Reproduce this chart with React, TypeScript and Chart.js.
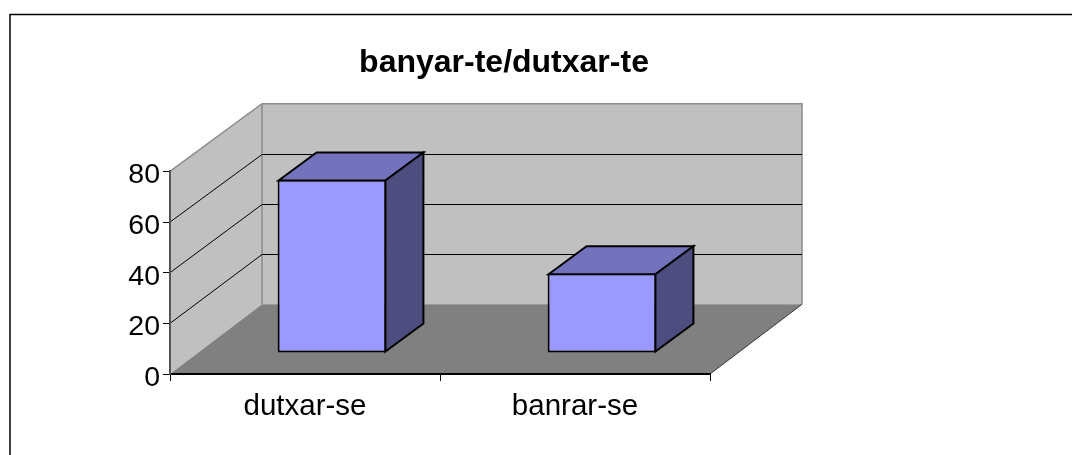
import React, { useEffect, useRef } from "react";
import { Chart, registerables } from "chart.js";

Chart.register(...registerables);

const title = "banyar-te/dutxar-te";
const categories = ["dutxar-se", "banrar-se"];
const seriesValues = [68.5, 31.5];
const gridValues = [0, 20, 40, 60, 80];

const WALL = "#C0C0C0";
const FLOOR = "#808080";
const EDGE = "#8C8C8C";
const FRONT = "#9999FF";
const TOP = "#7373BD";
const SIDE = "#4D4D80";

// Projection of the 3D box
const DEPTH_X = 92;
const DEPTH_Y = 69.7;
const BACK_RATIO = 0.99;
const BAR_SHIFT_X = 27;
const BAR_SHIFT_Y = 21;
const BAR_DX = 38;
const BAR_DY = 28;
const TITLE_CENTER = 504;
const Y_LABEL_DROP = 4;

const box3d = {
  id: "box3d",
  afterLayout(chart: any) {
    if (chart.titleBlock) {
      chart.titleBlock.left = 0;
      chart.titleBlock.right = TITLE_CENTER * 2;
    }
    const yScale = chart.scales.y;
    if (!yScale.__dropped) {
      yScale.__dropped = true;
      const orig = yScale._computeLabelItems;
      yScale._computeLabelItems = function (area: any) {
        return orig.call(this, area).map((it: any) => ({
          ...it,
          options: {
            ...it.options,
            translation: [it.options.translation[0], it.options.translation[1] + Y_LABEL_DROP],
          },
        }));
      };
      yScale._labelItems = null;
    }
  },
  beforeDatasetsDraw(chart: any) {
    const { ctx, chartArea: a, scales } = chart;
    const y = scales.y;
    const backY = (p: number) => a.bottom - DEPTH_Y + (p - a.bottom) * BACK_RATIO;
    const l = a.left, r = a.right, b = a.bottom, t = a.top;
    const bl = l + DEPTH_X, br = r + DEPTH_X;
    ctx.save();
    ctx.fillStyle = WALL;
    ctx.beginPath();
    ctx.moveTo(l, b); ctx.lineTo(l, t); ctx.lineTo(bl, backY(t)); ctx.lineTo(bl, backY(b)); ctx.closePath();
    ctx.fill();
    ctx.fillRect(bl, backY(t), br - bl, backY(b) - backY(t));
    ctx.fillStyle = FLOOR;
    ctx.beginPath();
    ctx.moveTo(l, b); ctx.lineTo(r, b); ctx.lineTo(br, backY(b)); ctx.lineTo(bl, backY(b)); ctx.closePath();
    ctx.fill();
    ctx.strokeStyle = EDGE;
    ctx.lineWidth = 1.5;
    ctx.beginPath();
    ctx.moveTo(l, t); ctx.lineTo(bl, backY(t)); ctx.lineTo(br, backY(t)); ctx.lineTo(br, backY(b));
    ctx.moveTo(bl, backY(t)); ctx.lineTo(bl, backY(b));
    ctx.stroke();
    ctx.strokeStyle = "#333333";
    ctx.lineWidth = 1;
    ctx.beginPath();
    ctx.moveTo(r, b); ctx.lineTo(br, backY(b));
    ctx.stroke();
    ctx.strokeStyle = "#000000";
    ctx.lineWidth = 1;
    gridValues.slice(1, -1).forEach((v) => {
      const p = y.getPixelForValue(v);
      const q = Math.round(backY(p)) + 0.5;
      ctx.beginPath();
      ctx.moveTo(l, p); ctx.lineTo(bl, q); ctx.lineTo(br, q);
      ctx.stroke();
    });
    ctx.restore();
    ctx.save();
    ctx.translate(BAR_SHIFT_X, -BAR_SHIFT_Y);
  },
  afterDatasetsDraw(chart: any) {
    const { ctx } = chart;
    const bars = chart.getDatasetMeta(0).data;
    ctx.lineWidth = 2;
    ctx.strokeStyle = "#000000";
    ctx.lineJoin = "miter";
    bars.forEach((bar: any) => {
      const xl = bar.x - bar.width / 2 + 1, xr = bar.x + bar.width / 2 - 1;
      const yt = bar.y + 1, yb = bar.base - 1;
      ctx.fillStyle = TOP;
      ctx.beginPath();
      ctx.moveTo(xl, yt); ctx.lineTo(xl + BAR_DX, yt - BAR_DY); ctx.lineTo(xr + BAR_DX, yt - BAR_DY); ctx.lineTo(xr, yt); ctx.closePath();
      ctx.fill(); ctx.stroke();
      ctx.fillStyle = SIDE;
      ctx.beginPath();
      ctx.moveTo(xr, yt); ctx.lineTo(xr + BAR_DX, yt - BAR_DY); ctx.lineTo(xr + BAR_DX, yb - BAR_DY); ctx.lineTo(xr, yb); ctx.closePath();
      ctx.fill(); ctx.stroke();
    });
    ctx.restore();
  },
};

const outerFrame = {
  id: "outerFrame",
  beforeDraw(chart: any) {
    const { ctx, width } = chart;
    ctx.save();
    ctx.strokeStyle = "#000000";
    ctx.lineWidth = 1.5;
    ctx.beginPath();
    ctx.moveTo(10, chart.height);
    ctx.lineTo(10, 14.5);
    ctx.lineTo(width, 14.5);
    ctx.stroke();
    ctx.restore();
  },
};

export default function App() {
  const ref = useRef<HTMLCanvasElement>(null);
  useEffect(() => {
    document.body.style.margin = "0";
    const chart = new Chart(ref.current as HTMLCanvasElement, {
      type: "bar",
      data: {
        labels: categories,
        datasets: [
          {
            label: "series",
            data: seriesValues,
            backgroundColor: FRONT,
            borderColor: "#000000",
            borderWidth: 2,
            borderSkipped: false,
            categoryPercentage: 1,
            barPercentage: 0.403,
          },
        ],
      },
      options: {
        responsive: false,
        animation: false,
        layout: { padding: { left: 10, right: 362, top: 0, bottom: 0 } },
        plugins: {
          legend: { display: false },
          tooltip: { enabled: false },
          title: {
            display: true,
            text: title,
            color: "#000000",
            font: { family: "'Liberation Sans'", size: 32, weight: "bold" },
            padding: { top: 44, bottom: 89 },
            fullSize: true,
          },
        },
        scales: {
          x: {
            offset: true,
            grid: { display: true, drawOnChartArea: false, offset: true, color: "#000000", tickLength: 7 },
            border: { color: "#000000", width: 2, z: 1 },
            ticks: { color: "#000000", font: { family: "'Liberation Sans'", size: 29.5 }, padding: 8, maxRotation: 0 },
            afterFit: (s: any) => { s.height = 81; },
          },
          y: {
            min: 0,
            max: 80,
            grid: { display: true, drawOnChartArea: false, color: "#000000", tickLength: 7 },
            border: { color: "#555555", width: 2, z: 1 },
            ticks: { color: "#000000", stepSize: 20, font: { family: "'Liberation Sans'", size: 28.5 }, padding: 3 },
            afterFit: (s: any) => { s.width = 160; },
          },
        },
      },
      plugins: [outerFrame, box3d],
    } as any);
    return () => chart.destroy();
  }, []);
  return <canvas ref={ref} width={1072} height={455} style={{ display: "block" }} />;
}
